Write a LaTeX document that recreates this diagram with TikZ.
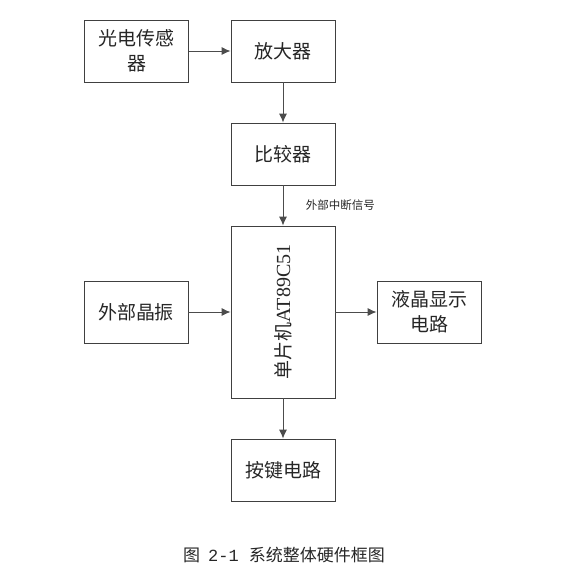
\documentclass[tikz,border=0pt]{standalone}
\usepackage{fontspec}
\setmainfont{Liberation Serif}
\newfontfamily\cjk{Noto Sans CJK SC}
\newfontfamily\numfont{Liberation Mono}
\usetikzlibrary{arrows.meta}

\tikzset{
	blk/.style={draw=black!75, line width=0.9pt, minimum width=104pt, minimum height=62pt,
		align=center, font=\cjk\fontsize{19}{25}\selectfont, text=black!85, inner sep=0pt},
	arr/.style={draw=black!70, line width=0.9pt, -{Latex[length=9pt,width=8pt]}}
}

\begin{document}
\begin{tikzpicture}[x=1pt,y=-1pt]
	%\draw[help lines] (0,0) grid (571,574);
	\useasboundingbox (0,0) rectangle (571,574);
	\node[blk] (sensor) at (136.5,51) {光电传感\\器};
	\node[blk] (amp) at (283,51) {放大器};
	\node[blk] (comp) at (283,154) {比较器};
	\node[blk, minimum height=172pt] (mcu) at (283,312) {};
	\node[rotate=90, text=black!85] (mcutext) at (mcu.center) {{\cjk\fontsize{19}{19}\selectfont 单片机}\fontsize{20}{20}\selectfont AT89C51};
	\node[blk] (osc) at (136,312) {外部晶振};
	\node[blk] (lcd) at (429,312) {液晶显示\\电路};
	\node[blk] (keys) at (283,470) {按键电路};
	\draw[arr] (sensor) -- (amp);
	\draw[arr] (amp) -- (comp);
	\draw[arr] (comp) -- node[right=19pt, pos=0.48, font=\cjk\fontsize{11.5}{11.5}\selectfont, text=black!85] (intlabel) {外部中断信号} (mcu);
	\draw[arr] (osc) -- (mcu);
	\draw[arr] (mcu) -- (lcd);
	\draw[arr] (mcu) -- (keys);
	\node[font=\cjk\fontsize{17}{17}\selectfont, text=black!85] (caption) at (284,555) {图\hspace{8pt}{\numfont 2-1}\hspace{10pt}系统整体硬件框图};
\end{tikzpicture}
\end{document}
